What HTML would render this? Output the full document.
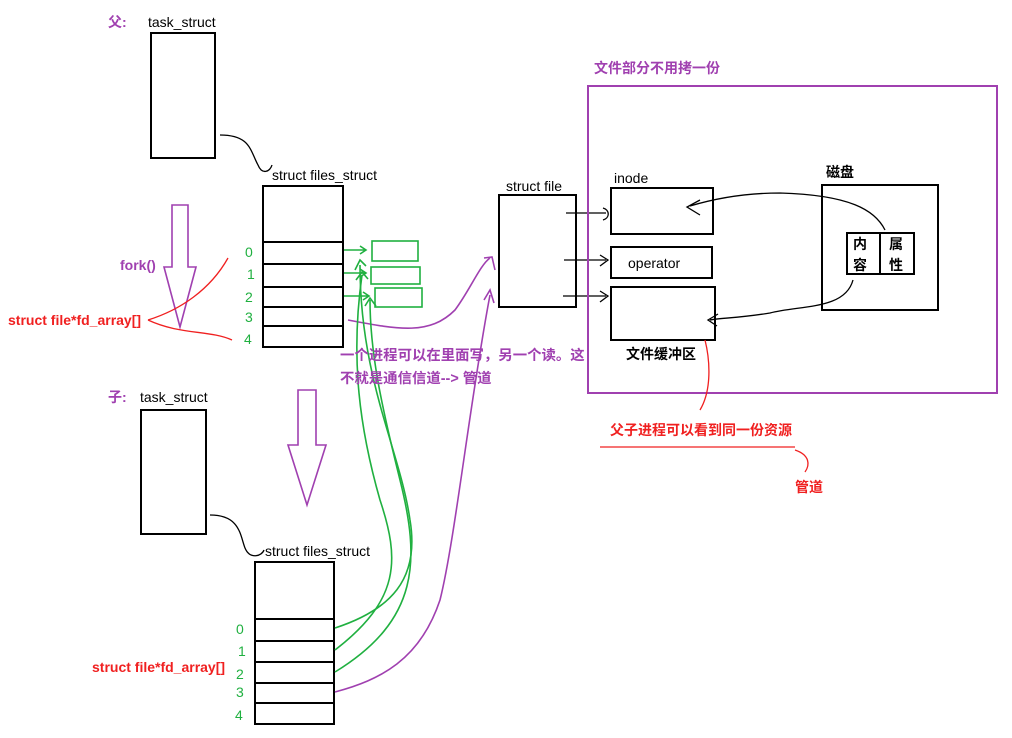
<!DOCTYPE html>
<html><head><meta charset="utf-8"><style>
body{margin:0;background:#fff}
svg{display:block}
text{font-family:"Liberation Sans","Noto Sans CJK SC",sans-serif;font-size:14px}
.b{font-weight:bold}
.c{font-size:14.4px}
</style></head><body>
<svg width="1012" height="738" viewBox="0 0 1012 738" xmlns="http://www.w3.org/2000/svg">
<g fill="none" stroke="#000" stroke-width="2">
<rect x="151" y="33" width="64" height="125"/>
<rect x="263" y="186" width="80" height="161"/>
<line x1="263" y1="242" x2="343" y2="242"/><line x1="263" y1="264" x2="343" y2="264"/><line x1="263" y1="287" x2="343" y2="287"/><line x1="263" y1="307" x2="343" y2="307"/><line x1="263" y1="326" x2="343" y2="326"/>
<rect x="141" y="410" width="65" height="124"/>
<rect x="255" y="562" width="79" height="162"/>
<line x1="255" y1="619" x2="334" y2="619"/><line x1="255" y1="641" x2="334" y2="641"/><line x1="255" y1="662" x2="334" y2="662"/><line x1="255" y1="683" x2="334" y2="683"/><line x1="255" y1="703" x2="334" y2="703"/>
<rect x="499" y="195" width="77" height="112"/>
<rect x="611" y="188" width="102" height="46"/>
<rect x="611" y="247" width="101" height="31"/>
<rect x="611" y="287" width="104" height="53"/>
<rect x="822" y="185" width="116" height="125"/>
<rect x="847" y="233" width="67" height="41"/><line x1="880" y1="233" x2="880" y2="274"/>
</g>
<g fill="none" stroke="#000" stroke-width="1.3">
<path d="M220 135 C250 135 250 150 258 165 C262 175 270 172 272 165"/>
<path d="M210 515 C240 515 240 535 245 548 C250 560 262 556 264 550"/>
<path d="M566 213 H606 M603 208 C610 210 610 218 603 220"/>
<path d="M564 260 H606 M600 255 L608 260 L600 266"/>
<path d="M563 296 H606 M600 291 L608 296 L600 302"/>
<path d="M885 230 C875 210 850 195 780 193 C740 193 710 200 690 206 M700 200 L687 207 L700 215"/>
<path d="M853 280 C845 310 800 305 770 313 C740 318 720 318 710 320 M718 314 L708 320 L717 326"/>
</g>
<rect x="588" y="86" width="409" height="307" fill="none" stroke="#a040b0" stroke-width="2"/>
<g fill="none" stroke="#a040b0" stroke-width="1.6">
<path d="M172 205 H188 V267 H196 L180 327 L164 267 H172 Z"/>
<path d="M298 390 H316 V445 H326 L307 505 L288 445 H298 Z"/>
<path d="M348 320 C400 330 430 335 455 310 C470 290 480 265 490 258 M484 258 L492 257 L495 270"/>
<path d="M335 692 C380 680 420 660 440 600 C455 540 470 400 490 295 M484 300 L490 290 L494 303"/>
</g>
<g fill="none" stroke="#20b040" stroke-width="1.6">
<rect x="372" y="241" width="46" height="20"/><rect x="371" y="267" width="49" height="17"/><rect x="375" y="288" width="47" height="19"/>
<path d="M344 250 H365 M360 246 L366 250 L360 254"/>
<path d="M344 273 H365 M360 269 L366 273 L360 277"/>
<path d="M344 296 H368 M363 292 L369 296 L363 300"/>
<path d="M335 628 C390 610 420 580 410 520 C400 450 360 380 360 265 M355 270 L360 260 L366 266"/>
<path d="M335 650 C400 600 400 560 380 500 C360 430 350 360 362 275 M356 280 L362 272 L368 279"/>
<path d="M335 672 C420 620 420 560 400 480 C380 400 370 350 370 300 M365 306 L370 298 L376 306"/>
</g>
<g fill="none" stroke="#f02020" stroke-width="1.3">
<path d="M148 320 C180 310 210 290 228 258"/><path d="M148 320 C180 335 210 330 232 340"/>
<path d="M705 340 C710 360 712 390 700 410"/>
<line x1="600" y1="447" x2="795" y2="447"/>
<path d="M795 450 C810 455 810 465 805 472"/>
</g>
<g>
<text x="245" y="257" fill="#20b040">0</text><text x="247" y="279" fill="#20b040">1</text><text x="245" y="302" fill="#20b040">2</text><text x="245" y="322" fill="#20b040">3</text><text x="244" y="344" fill="#20b040">4</text>
<text x="236" y="634" fill="#20b040">0</text><text x="238" y="656" fill="#20b040">1</text><text x="236" y="679" fill="#20b040">2</text><text x="236" y="697" fill="#20b040">3</text><text x="235" y="720" fill="#20b040">4</text>
</g>
<text x="148" y="27">task_struct</text>
<text x="140" y="402">task_struct</text>
<text x="272" y="180">struct files_struct</text>
<text x="265" y="556">struct files_struct</text>
<text x="506" y="191">struct file</text>
<text x="614" y="183">inode</text>
<text x="628" y="268">operator</text>
<text x="626" y="359" class="b">文件缓冲区</text>
<text x="826" y="177" class="b">磁盘</text>
<text x="853" y="249" class="b">内</text><text x="853" y="270" class="b">容</text>
<text x="889" y="249" class="b">属</text><text x="889" y="270" class="b">性</text>
<text x="108" y="27" fill="#a040b0" class="b">父:</text>
<text x="108" y="402" fill="#a040b0" class="b">子:</text>
<text x="120" y="270" fill="#a040b0" class="b">fork()</text>
<text x="594" y="73" fill="#a040b0" class="b">文件部分不用拷一份</text>
<text x="340" y="360" fill="#a040b0" class="b c">一个进程可以在里面写，另一个读。这</text>
<text x="340" y="383" fill="#a040b0" class="b c">不就是通信信道--&gt; 管道</text>
<text x="8" y="325" fill="#f02020" class="b">struct file*fd_array[]</text>
<text x="92" y="672" fill="#f02020" class="b">struct file*fd_array[]</text>
<text x="610" y="435" fill="#f02020" class="b">父子进程可以看到同一份资源</text>
<text x="795" y="492" fill="#f02020" class="b">管道</text>
</svg>
</body></html>
